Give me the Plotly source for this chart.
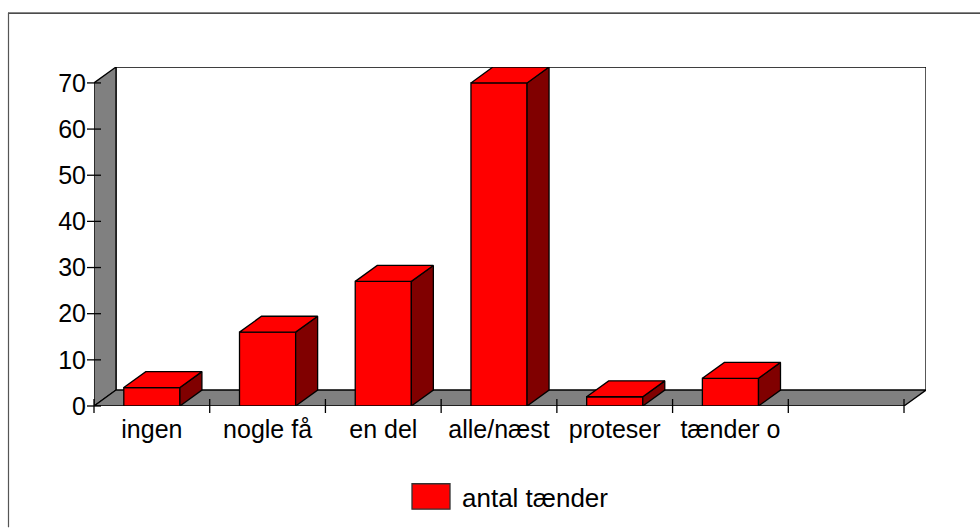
import plotly.graph_objects as go

categories = ["ingen", "nogle få", "en del", "alle/næst", "proteser", "tænder o", ""]
values = [4, 16, 27, 70, 2, 6, None]
y_ticks = [0, 10, 20, 30, 40, 50, 60, 70]
series_name = "antal tænder"

W, H = 980, 528
LEFT, RIGHT, TOP, BOTTOM = 94, 926, 66.5, 406.5
N = len(categories)
Y_MAX = 70
DX = 0.19
DY = 3.45
BAR_W = 0.485
LINE_W = 1.3
FONT = "Liberation Sans, Arial, sans-serif"
RED, DARK_RED, GRAY, INK = "#ff0000", "#800000", "#808080", "#000000"

x_pos = [i + 0.5 for i in range(N)]
bounds = list(range(N + 1))

fig = go.Figure()
fig.add_trace(go.Bar(x=x_pos, y=values, width=BAR_W, name=series_name,
                     marker=dict(color=RED, line=dict(color=INK, width=LINE_W)),
                     showlegend=False))

side_x, side_y, top_x, top_y = [], [], [], []
for c, v in zip(x_pos, values):
    if v is None:
        continue
    l, r = c - BAR_W / 2, c + BAR_W / 2
    side_x += [r, r + DX, r + DX, r, r, None]
    side_y += [0, DY, v + DY, v, 0, None]
    top_x += [l, l + DX, r + DX, r, l, None]
    top_y += [v, v + DY, v + DY, v, v, None]

for xs, ys, col in ((side_x, side_y, DARK_RED), (top_x, top_y, RED)):
    fig.add_trace(go.Scatter(x=xs, y=ys, mode="lines", fill="toself", fillcolor=col,
                             line=dict(color=INK, width=LINE_W), hoverinfo="skip",
                             showlegend=False, cliponaxis=False))

fig.add_trace(go.Scatter(x=bounds, y=[0] * len(bounds), mode="markers", showlegend=False,
                         hoverinfo="skip", cliponaxis=False,
                         marker=dict(symbol="line-ns", size=10, line=dict(color=INK, width=LINE_W))))
fig.add_trace(go.Scatter(x=[0] * len(y_ticks), y=y_ticks, mode="markers", showlegend=False,
                         hoverinfo="skip", cliponaxis=False,
                         marker=dict(symbol="line-ew", size=10, line=dict(color=INK, width=LINE_W))))


def px_x(p):
    return (p - LEFT) / (RIGHT - LEFT)


def px_y(p):
    return (BOTTOM - p) / (BOTTOM - TOP)


def poly(pts):
    return "M" + " L".join(f"{a},{b}" for a, b in pts) + " Z"


wall_line = dict(color=INK, width=LINE_W)
shapes = [
    dict(type="path", layer="below", xref="x", yref="y", fillcolor="white", line=wall_line,
         path=poly([(DX, DY), (N + DX, DY), (N + DX, Y_MAX + DY), (DX, Y_MAX + DY)])),
    dict(type="path", layer="below", xref="x", yref="y", fillcolor=GRAY, line=wall_line,
         path=poly([(0, 0), (DX, DY), (DX, Y_MAX + DY), (0, Y_MAX)])),
    dict(type="path", layer="below", xref="x", yref="y", fillcolor=GRAY, line=wall_line,
         path=poly([(0, 0), (N, 0), (N + DX, DY), (DX, DY)])),
    # chart-area frame (only its top and left edges fall inside the window)
    dict(type="line", xref="paper", yref="paper", x0=px_x(8), x1=px_x(980), y0=px_y(12.5), y1=px_y(12.5),
         line=dict(color="#111111", width=1.2)),
    dict(type="line", xref="paper", yref="paper", x0=px_x(8.5), x1=px_x(8.5), y0=px_y(12), y1=px_y(528),
         line=dict(color="#555555", width=1.2)),
    # legend swatch
    dict(type="rect", xref="paper", yref="paper", x0=px_x(412), x1=px_x(450), y0=px_y(510), y1=px_y(484.5),
         fillcolor=RED, line=dict(color="#333333", width=LINE_W)),
]

fig.update_layout(
    width=W, height=H, autosize=False,
    margin=dict(l=LEFT, r=W - RIGHT, t=TOP, b=H - BOTTOM, pad=0),
    paper_bgcolor="white", plot_bgcolor="rgba(0,0,0,0)",
    font=dict(family=FONT, size=24, color=INK),
    showlegend=False, shapes=shapes,
    xaxis=dict(range=[0, N + DX], tickmode="array", tickvals=x_pos, ticktext=categories,
               ticks="", showgrid=False, zeroline=False, showline=False,
               ticklabelstandoff=6, tickangle=0, tickfont=dict(family=FONT, size=25)),
    yaxis=dict(range=[0, Y_MAX + DY], tickmode="array", tickvals=y_ticks,
               ticks="", showgrid=False, zeroline=False, showline=False,
               ticklabelstandoff=7, tickfont=dict(family=FONT, size=25)),
    annotations=[dict(text=series_name, xref="paper", yref="paper", x=px_x(460), y=px_y(499),
                      xanchor="left", yanchor="middle", showarrow=False,
                      font=dict(family=FONT, size=26, color=INK))],
)

fig.write_html("out.html", config={"displayModeBar": False},
               post_script="document.body.style.margin='0';document.documentElement.style.overflow='hidden';")
